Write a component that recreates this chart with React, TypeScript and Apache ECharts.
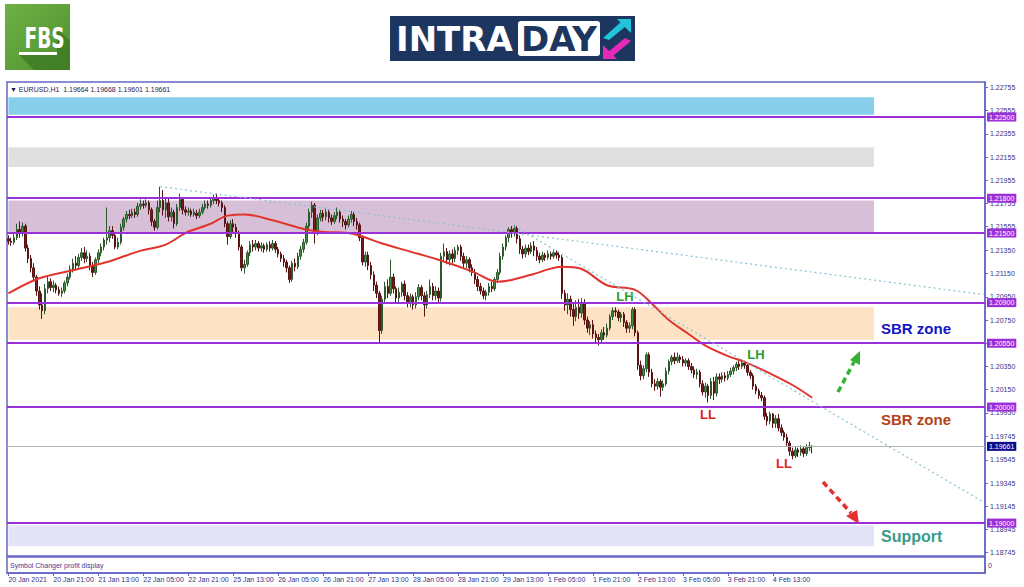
import React, { useEffect, useRef } from "react";
import * as echarts from "echarts";

// ---------- DATA ----------
// EURUSD H1 candles: [open, close, low, high], first bar 20 Jan 2021 05:00
const candles: number[][] = [
  [1.2145,1.2143,1.2140,1.2148],[1.2143,1.2142,1.2139,1.2146],[1.2142,1.2146,1.2140,1.2149],[1.2146,1.2153,1.2144,1.2158],
  [1.2153,1.2150,1.2146,1.2160],[1.2150,1.2156,1.2147,1.2159],[1.2156,1.2137,1.2134,1.2158],[1.2137,1.2128,1.2124,1.2140],
  [1.2128,1.2120,1.2116,1.2131],[1.2120,1.2112,1.2108,1.2124],[1.2112,1.2100,1.2096,1.2114],[1.2100,1.2088,1.2084,1.2104],
  [1.2088,1.2083,1.2076,1.2098],[1.2083,1.2102,1.2080,1.2106],[1.2102,1.2108,1.2098,1.2113],[1.2108,1.2103,1.2100,1.2111],
  [1.2103,1.2105,1.2099,1.2109],[1.2105,1.2101,1.2098,1.2107],[1.2101,1.2098,1.2096,1.2104],[1.2098,1.2100,1.2095,1.2103],
  [1.2100,1.2107,1.2098,1.2109],[1.2107,1.2112,1.2104,1.2115],[1.2112,1.2119,1.2110,1.2122],[1.2119,1.2124,1.2116,1.2128],
  [1.2124,1.2122,1.2118,1.2130],[1.2122,1.2129,1.2120,1.2132],[1.2129,1.2133,1.2126,1.2137],[1.2133,1.2128,1.2124,1.2138],
  [1.2128,1.2130,1.2125,1.2135],[1.2130,1.2122,1.2118,1.2133],[1.2122,1.2116,1.2112,1.2125],[1.2116,1.2127,1.2114,1.2129],
  [1.2127,1.2133,1.2124,1.2136],[1.2133,1.2138,1.2130,1.2141],[1.2138,1.2144,1.2135,1.2146],[1.2144,1.2146,1.2140,1.2172],
  [1.2146,1.2152,1.2142,1.2156],[1.2152,1.2148,1.2145,1.2156],[1.2148,1.2138,1.2136,1.2150],[1.2138,1.2142,1.2136,1.2146],
  [1.2142,1.2155,1.2140,1.2158],[1.2155,1.2162,1.2152,1.2164],[1.2162,1.2166,1.2159,1.2169],[1.2166,1.2165,1.2162,1.2170],
  [1.2165,1.2168,1.2163,1.2171],[1.2168,1.2166,1.2163,1.2171],[1.2166,1.2173,1.2164,1.2176],[1.2173,1.2175,1.2170,1.2179],
  [1.2175,1.2174,1.2171,1.2178],[1.2174,1.2176,1.2172,1.2179],[1.2176,1.2170,1.2166,1.2178],[1.2170,1.2160,1.2156,1.2172],
  [1.2160,1.2155,1.2152,1.2162],[1.2155,1.2172,1.2153,1.2178],[1.2172,1.2178,1.2168,1.2190],[1.2178,1.2170,1.2165,1.2187],
  [1.2170,1.2176,1.2163,1.2181],[1.2176,1.2164,1.2160,1.2180],[1.2164,1.2168,1.2160,1.2172],[1.2168,1.2158,1.2154,1.2170],
  [1.2158,1.2172,1.2156,1.2175],[1.2172,1.2179,1.2169,1.2184],[1.2179,1.2170,1.2166,1.2181],[1.2170,1.2168,1.2165,1.2173],
  [1.2168,1.2169,1.2165,1.2172],[1.2169,1.2166,1.2164,1.2171],[1.2166,1.2168,1.2164,1.2171],[1.2167,1.2165,1.2162,1.2170],
  [1.2165,1.2168,1.2163,1.2171],[1.2168,1.2172,1.2166,1.2175],[1.2172,1.2175,1.2170,1.2178],[1.2175,1.2174,1.2171,1.2178],
  [1.2174,1.2178,1.2172,1.2181],[1.2178,1.2180,1.2175,1.2183],[1.2180,1.2178,1.2175,1.2184],[1.2178,1.2176,1.2173,1.2181],
  [1.2176,1.2172,1.2168,1.2178],[1.2172,1.2158,1.2155,1.2174],[1.2158,1.2147,1.2140,1.2160],[1.2147,1.2158,1.2145,1.2161],
  [1.2158,1.2155,1.2150,1.2162],[1.2155,1.2150,1.2146,1.2158],[1.2150,1.2138,1.2135,1.2152],[1.2138,1.2120,1.2117,1.2140],
  [1.2120,1.2123,1.2115,1.2127],[1.2123,1.2133,1.2121,1.2135],[1.2133,1.2140,1.2130,1.2143],[1.2140,1.2138,1.2134,1.2144],
  [1.2138,1.2141,1.2135,1.2144],[1.2141,1.2137,1.2134,1.2143],[1.2137,1.2139,1.2134,1.2142],[1.2139,1.2136,1.2133,1.2141],
  [1.2136,1.2140,1.2134,1.2142],[1.2140,1.2137,1.2134,1.2143],[1.2137,1.2141,1.2135,1.2144],[1.2141,1.2136,1.2133,1.2143],
  [1.2136,1.2132,1.2129,1.2138],[1.2132,1.2128,1.2125,1.2134],[1.2128,1.2125,1.2121,1.2131],[1.2125,1.2120,1.2116,1.2127],
  [1.2120,1.2110,1.2107,1.2122],[1.2110,1.2124,1.2108,1.2126],[1.2124,1.2121,1.2117,1.2128],[1.2121,1.2130,1.2119,1.2133],
  [1.2130,1.2136,1.2127,1.2139],[1.2136,1.2142,1.2133,1.2145],[1.2142,1.2156,1.2140,1.2159],[1.2156,1.2168,1.2153,1.2171],
  [1.2168,1.2174,1.2163,1.2177],[1.2174,1.2150,1.2141,1.2176],[1.2150,1.2163,1.2148,1.2166],[1.2163,1.2167,1.2160,1.2170],
  [1.2167,1.2164,1.2160,1.2170],[1.2164,1.2168,1.2161,1.2171],[1.2168,1.2163,1.2159,1.2170],[1.2163,1.2160,1.2157,1.2166],
  [1.2160,1.2165,1.2158,1.2168],[1.2165,1.2168,1.2162,1.2172],[1.2168,1.2162,1.2159,1.2170],[1.2162,1.2160,1.2155,1.2165],
  [1.2160,1.2157,1.2153,1.2162],[1.2157,1.2162,1.2155,1.2165],[1.2162,1.2166,1.2159,1.2169],[1.2166,1.2160,1.2156,1.2168],
  [1.2160,1.2157,1.2153,1.2163],[1.2157,1.2146,1.2143,1.2159],[1.2146,1.2125,1.2122,1.2148],[1.2125,1.2131,1.2121,1.2134],
  [1.2131,1.2122,1.2118,1.2134],[1.2122,1.2114,1.2110,1.2125],[1.2114,1.2105,1.2100,1.2117],[1.2105,1.2098,1.2094,1.2108],
  [1.2098,1.2066,1.2056,1.2100],[1.2066,1.2093,1.2063,1.2096],[1.2093,1.2104,1.2090,1.2108],[1.2104,1.2098,1.2094,1.2110],
  [1.2098,1.2112,1.2096,1.2127],[1.2112,1.2102,1.2098,1.2115],[1.2102,1.2094,1.2090,1.2104],[1.2094,1.2099,1.2090,1.2103],
  [1.2099,1.2106,1.2095,1.2108],[1.2106,1.2096,1.2092,1.2109],[1.2096,1.2090,1.2086,1.2099],[1.2090,1.2095,1.2086,1.2098],
  [1.2095,1.2088,1.2084,1.2097],[1.2088,1.2095,1.2085,1.2099],[1.2095,1.2103,1.2092,1.2106],[1.2103,1.2096,1.2092,1.2105],
  [1.2096,1.2088,1.2078,1.2099],[1.2088,1.2097,1.2085,1.2100],[1.2097,1.2104,1.2094,1.2110],[1.2104,1.2096,1.2092,1.2107],
  [1.2096,1.2100,1.2092,1.2104],[1.2100,1.2094,1.2090,1.2103],[1.2094,1.2130,1.2091,1.2133],[1.2130,1.2134,1.2126,1.2141],
  [1.2134,1.2127,1.2123,1.2137],[1.2127,1.2132,1.2122,1.2135],[1.2132,1.2128,1.2124,1.2136],[1.2128,1.2135,1.2125,1.2138],
  [1.2135,1.2138,1.2131,1.2140],[1.2138,1.2130,1.2126,1.2140],[1.2130,1.2124,1.2120,1.2133],[1.2124,1.2127,1.2120,1.2130],
  [1.2127,1.2120,1.2116,1.2129],[1.2120,1.2116,1.2113,1.2123],[1.2116,1.2110,1.2106,1.2119],[1.2110,1.2104,1.2100,1.2113],
  [1.2104,1.2100,1.2097,1.2107],[1.2100,1.2096,1.2093,1.2103],[1.2096,1.2099,1.2092,1.2101],[1.2099,1.2104,1.2096,1.2107],
  [1.2104,1.2102,1.2099,1.2108],[1.2102,1.2110,1.2100,1.2112],[1.2110,1.2116,1.2107,1.2119],[1.2116,1.2130,1.2114,1.2133],
  [1.2130,1.2138,1.2127,1.2141],[1.2138,1.2146,1.2135,1.2148],[1.2146,1.2153,1.2142,1.2155],[1.2153,1.2150,1.2146,1.2156],
  [1.2150,1.2154,1.2147,1.2157],[1.2154,1.2145,1.2141,1.2156],[1.2145,1.2136,1.2132,1.2148],[1.2136,1.2132,1.2128,1.2139],
  [1.2132,1.2137,1.2129,1.2140],[1.2137,1.2134,1.2131,1.2140],[1.2134,1.2139,1.2132,1.2142],[1.2139,1.2135,1.2130,1.2143],
  [1.2135,1.2130,1.2126,1.2138],[1.2130,1.2127,1.2124,1.2133],[1.2127,1.2131,1.2125,1.2134],[1.2131,1.2129,1.2126,1.2133],
  [1.2129,1.2132,1.2127,1.2135],[1.2132,1.2130,1.2127,1.2134],[1.2130,1.2133,1.2128,1.2135],[1.2133,1.2131,1.2128,1.2135],
  [1.2131,1.2129,1.2126,1.2134],[1.2129,1.2098,1.2093,1.2131],[1.2098,1.2088,1.2083,1.2101],[1.2088,1.2093,1.2080,1.2098],
  [1.2093,1.2084,1.2078,1.2096],[1.2084,1.2078,1.2070,1.2089],[1.2078,1.2086,1.2074,1.2092],[1.2086,1.2081,1.2076,1.2093],
  [1.2081,1.2089,1.2077,1.2094],[1.2089,1.2075,1.2071,1.2093],[1.2075,1.2068,1.2064,1.2078],[1.2068,1.2071,1.2062,1.2074],
  [1.2071,1.2063,1.2059,1.2075],[1.2063,1.2060,1.2055,1.2066],[1.2060,1.2058,1.2053,1.2063],[1.2058,1.2064,1.2056,1.2067],
  [1.2064,1.2062,1.2058,1.2069],[1.2062,1.2068,1.2060,1.2072],[1.2068,1.2078,1.2066,1.2080],[1.2078,1.2083,1.2075,1.2086],
  [1.2083,1.2082,1.2078,1.2086],[1.2082,1.2077,1.2074,1.2084],[1.2077,1.2080,1.2073,1.2082],[1.2080,1.2073,1.2069,1.2082],
  [1.2073,1.2068,1.2064,1.2075],[1.2068,1.2070,1.2064,1.2073],[1.2070,1.2084,1.2067,1.2086],[1.2084,1.2064,1.2061,1.2086],
  [1.2064,1.2036,1.2032,1.2066],[1.2036,1.2027,1.2023,1.2040],[1.2027,1.2033,1.2024,1.2036],[1.2033,1.2045,1.2030,1.2047],
  [1.2045,1.2030,1.2026,1.2047],[1.2030,1.2020,1.2017,1.2033],[1.2020,1.2018,1.2014,1.2024],[1.2018,1.2022,1.2015,1.2025],
  [1.2022,1.2017,1.2009,1.2024],[1.2017,1.2020,1.2014,1.2023],[1.2020,1.2031,1.2018,1.2034],[1.2031,1.2039,1.2028,1.2041],
  [1.2039,1.2043,1.2036,1.2045],[1.2043,1.2040,1.2037,1.2047],[1.2040,1.2043,1.2038,1.2047],[1.2043,1.2041,1.2038,1.2045],
  [1.2041,1.2038,1.2035,1.2044],[1.2038,1.2040,1.2035,1.2042],[1.2040,1.2035,1.2032,1.2042],[1.2035,1.2032,1.2029,1.2038],
  [1.2032,1.2028,1.2025,1.2035],[1.2028,1.2030,1.2024,1.2033],[1.2030,1.2020,1.2017,1.2032],[1.2020,1.2013,1.2010,1.2023],
  [1.2013,1.2018,1.2008,1.2021],[1.2018,1.2010,1.2004,1.2020],[1.2010,1.2022,1.2007,1.2025],[1.2022,1.2012,1.2006,1.2026],
  [1.2012,1.2026,1.2009,1.2029],[1.2026,1.2024,1.2020,1.2029],[1.2024,1.2027,1.2021,1.2030],[1.2027,1.2025,1.2022,1.2030],
  [1.2025,1.2028,1.2023,1.2031],[1.2028,1.2031,1.2026,1.2034],[1.2031,1.2034,1.2028,1.2036],[1.2034,1.2037,1.2031,1.2039],
  [1.2037,1.2035,1.2032,1.2040],[1.2035,1.2038,1.2033,1.2041],[1.2038,1.2036,1.2033,1.2040],[1.2036,1.2030,1.2027,1.2038],
  [1.2030,1.2027,1.2024,1.2032],[1.2027,1.2018,1.2015,1.2029],[1.2018,1.2014,1.2011,1.2020],[1.2014,1.2010,1.2007,1.2016],
  [1.2010,1.2008,1.2005,1.2013],[1.2008,1.1992,1.1989,1.2010],[1.1992,1.1988,1.1984,1.1995],[1.1988,1.1994,1.1985,1.1996],
  [1.1994,1.1986,1.1982,1.1995],[1.1986,1.1990,1.1982,1.1993],[1.1990,1.1982,1.1979,1.1994],[1.1982,1.1978,1.1975,1.1985],
  [1.1978,1.1974,1.1971,1.1980],[1.1974,1.1969,1.1966,1.1977],[1.1969,1.1962,1.1958,1.1971],[1.1962,1.1958,1.1955,1.1965],
  [1.1958,1.1963,1.1956,1.1966],[1.1963,1.1961,1.1957,1.1965],[1.1961,1.1964,1.1958,1.1967],[1.1964,1.1960,1.1957,1.1966],
  [1.1960,1.1965,1.1958,1.1968],[1.1965,1.19664,1.1962,1.1970],[1.19664,1.19661,1.19601,1.19668],
];

// Moving average read at points: [bar index, value]
const maPoints: number[][] = [
  [0, 1.2098], [11, 1.2111], [23, 1.2118], [35, 1.2125], [46, 1.2134], [56, 1.2140], [63, 1.2150],
  [72, 1.2158], [78, 1.2165], [84, 1.2166], [94, 1.2161], [106, 1.2153], [112, 1.2151], [121, 1.2150],
  [126, 1.2147], [133, 1.2141], [143, 1.2134], [153, 1.2127], [165, 1.2117], [174, 1.2108], [178, 1.2109],
  [186, 1.2114], [197, 1.2121], [204, 1.2119], [213, 1.2105], [223, 1.2101], [229, 1.2089], [235, 1.2075],
  [242, 1.2063], [248, 1.2053], [257, 1.2043], [262, 1.2039], [271, 1.2029], [279, 1.2019], [286, 1.2008],
];

const tickLabels = [
  "20 Jan 2021", "20 Jan 21:00", "21 Jan 13:00", "22 Jan 05:00", "22 Jan 21:00", "25 Jan 13:00",
  "26 Jan 05:00", "26 Jan 21:00", "27 Jan 13:00", "28 Jan 05:00", "28 Jan 21:00", "29 Jan 13:00",
  "1 Feb 05:00", "1 Feb 21:00", "2 Feb 13:00", "3 Feb 05:00", "3 Feb 21:00", "4 Feb 13:00",
];
const priceTicks = [
  1.22755, 1.22555, 1.22355, 1.22155, 1.21955, 1.21755, 1.21555, 1.2135, 1.2115, 1.2095, 1.2075,
  1.2055, 1.2035, 1.2015, 1.1995, 1.19745, 1.19545, 1.19345, 1.19145, 1.18945, 1.18745,
];
const levels = [1.225, 1.218, 1.215, 1.209, 1.2055, 1.2, 1.19];
const lastPrice = 1.19661;
const zoneBounds = [
  [1.2267, 1.2252],
  [1.2224, 1.2207],
  [1.2178, 1.2151],
  [1.2086, 1.2058],
  [1.1898, 1.1880],
];
const zoneEndBar = 308;
// trendlines: [startBar, startValue, endBar, endValue]
const trendlines = [
  [54, 1.2190, 347, 1.2097],
  [180, 1.2156, 347, 1.1918],
];
const headerQuote = "EURUSD,H1  1.19664 1.19668 1.19601 1.19661";

// hourly time slots (weekdays only), chart shifted with empty space on the right
const TOTAL_SLOTS = 348;
const MONTHS = ["Jan", "Feb", "Mar"];
const categories: string[] = (() => {
  const out: string[] = [];
  let t = Date.UTC(2021, 0, 20, 5);
  while (out.length < TOTAL_SLOTS) {
    const d = new Date(t);
    const wd = d.getUTCDay();
    if (wd !== 0 && wd !== 6) {
      out.push(`${d.getUTCDate()} ${MONTHS[d.getUTCMonth()]} ${String(d.getUTCHours()).padStart(2, "0")}:00`);
    }
    t += 3600000;
  }
  return out;
})();

// ---------- STYLE ----------
const FRAME = "#6464c8";
const LEVEL = "#9b30d9";
const AXIS_TXT = "#33338a";
const SMALL_FONT = "'Liberation Sans', Arial, sans-serif";
const zoneColors = ["#87ceeb", "#e0e0e0", "#d8bfd8", "#fde2c4", "#e4e4f8"];

export default function App() {
  const ref = useRef<HTMLDivElement>(null);

  useEffect(() => {
    if (!ref.current) return;
    const chart = echarts.init(ref.current, undefined, { renderer: "svg" });

    const labelEvery = (idx: number) => idx % 16 === 0 && idx < candles.length;

    const levelLines: any[] = levels.map((v) => ({
      yAxis: v,
      lineStyle: { color: LEVEL, width: 2, type: "solid" },
      label: {
        show: true,
        position: "end",
        distance: 2,
        formatter: () => v.toFixed(5),
        backgroundColor: LEVEL,
        color: "#ffffff",
        fontSize: 7,
        fontFamily: SMALL_FONT,
        padding: [1, 2, 1, 2],
      },
    }));
    levelLines.push({
      yAxis: lastPrice,
      lineStyle: { color: "#b4b4b4", width: 1, type: "solid" },
      label: {
        show: true,
        position: "end",
        distance: 2,
        formatter: () => lastPrice.toFixed(5),
        backgroundColor: "#0c0c8c",
        color: "#ffffff",
        fontSize: 7,
        fontFamily: SMALL_FONT,
        padding: [1, 2, 1, 2],
      },
    });

    const trendData = trendlines.map((t) => [
      { coord: [t[0], t[1]], lineStyle: { color: "#86c3d0", width: 1.2, type: [2, 3] }, label: { show: false } },
      { coord: [t[2], t[3]] },
    ]);

    const option: any = {
      animation: false,
      backgroundColor: "#ffffff",
      grid: [
        { left: 7, top: 82, width: 978, height: 474, show: true, borderColor: FRAME, borderWidth: 1.5, backgroundColor: "#ffffff" },
        { left: 7, top: 557, width: 978, height: 16, show: true, borderColor: FRAME, borderWidth: 1.5, backgroundColor: "#ffffff" },
      ],
      xAxis: [
        {
          type: "category", gridIndex: 0, data: categories, boundaryGap: true,
          axisLine: { show: false }, axisTick: { show: false }, axisLabel: { show: false }, splitLine: { show: false },
        },
        {
          type: "category", gridIndex: 1, data: categories, boundaryGap: true, position: "bottom",
          axisLine: { show: true, lineStyle: { color: FRAME, width: 1.5 } },
          axisTick: { show: true, interval: labelEvery, alignWithLabel: true, length: 3, lineStyle: { color: FRAME } },
          axisLabel: {
            show: true, interval: labelEvery, align: "left", margin: 3,
            formatter: (_v: string, idx: number) => tickLabels[idx / 16] ?? "",
            fontSize: 7, color: AXIS_TXT, fontFamily: SMALL_FONT,
          },
          splitLine: { show: false },
        },
      ],
      yAxis: [
        {
          type: "value", gridIndex: 0, position: "right", min: 1.18716, max: 1.22802,
          splitLine: { show: false },
          axisLine: { show: true, lineStyle: { color: FRAME, width: 1.5 } },
          axisTick: { show: true, length: 3, customValues: priceTicks, lineStyle: { color: FRAME } },
          axisLabel: {
            show: true, customValues: priceTicks, margin: 5,
            formatter: (v: number) => v.toFixed(5),
            fontSize: 7, color: AXIS_TXT, fontFamily: SMALL_FONT,
          },
        },
        {
          type: "value", gridIndex: 1, position: "right", min: 0, max: 1,
          splitLine: { show: false },
          axisLine: { show: true, lineStyle: { color: FRAME, width: 1.5 } },
          axisTick: { show: false }, axisLabel: { show: false },
        },
      ],
      series: [
        {
          name: "zones", type: "line", data: [], z: 1, silent: true,
          markArea: {
            silent: true,
            data: zoneBounds.map((b, k) => [
              { xAxis: 0, yAxis: b[0], itemStyle: { color: zoneColors[k], opacity: 1 } },
              { xAxis: zoneEndBar, yAxis: b[1] },
            ]),
          },
        },
        {
          name: "levels", type: "line", data: [], z: 2, silent: true,
          markLine: {
            silent: true, symbol: ["none", "none"], animation: false, precision: 5,
            data: [...levelLines, ...trendData],
          },
        },
        {
          name: "EURUSD", type: "candlestick", data: candles, z: 3, barWidth: 2,
          itemStyle: { color: "#3f8f3f", color0: "#7b1c1c", borderColor: "#2d5a2d", borderColor0: "#561313", borderWidth: 1 },
        },
        {
          name: "MA", type: "line", data: maPoints, z: 4, smooth: 0.35, showSymbol: false, silent: true,
          lineStyle: { color: "#e0342c", width: 2 },
        },
      ],
      graphic: [
        // FBS logo
        {
          type: "rect", shape: { x: 5, y: 4, width: 65, height: 66 },
          style: { fill: new echarts.graphic.LinearGradient(0, 0, 1, 1, [
            { offset: 0, color: "#6fb043" }, { offset: 1, color: "#4e9130" },
          ]) },
        },
        {
          type: "polygon", shape: { points: [[57, 28], [70, 41], [70, 70], [34, 70], [19, 55], [57, 55]] },
          style: { fill: "#3f7b25", opacity: 0.85 },
        },
        {
          type: "text", x: 18, y: 38, scaleX: 0.64, originX: 18,
          style: { text: "FBS", fill: "#ffffff", fontSize: 29, fontWeight: "bold", fontFamily: "'DejaVu Sans', sans-serif", verticalAlign: "middle", align: "left" },
        },
        { type: "rect", shape: { x: 19, y: 52, width: 38, height: 3 }, style: { fill: "#ffffff" } },
        // INTRADAY logo
        { type: "rect", shape: { x: 390, y: 16, width: 245, height: 45 }, style: { fill: "#1d3660" } },
        {
          type: "text", x: 396, y: 39,
          style: { text: "INTRA", fill: "#ffffff", fontSize: 34, fontWeight: "bold", fontFamily: "'DejaVu Sans', sans-serif", verticalAlign: "middle", align: "left" },
        },
        { type: "rect", shape: { x: 518, y: 21, width: 82, height: 35, r: 3 }, style: { fill: "#ffffff" } },
        {
          type: "text", x: 559, y: 39,
          style: { text: "DAY", fill: "#1d3660", fontSize: 34, fontWeight: "bold", fontFamily: "'DejaVu Sans', sans-serif", verticalAlign: "middle", align: "center" },
        },
        { type: "polygon", shape: { points: [[617, 19], [631, 19], [631, 33]] }, style: { fill: "#22c4da" } },
        { type: "polygon", shape: { points: [[603, 38], [609, 40], [626, 26], [621, 22]] }, style: { fill: "#22c4da" } },
        { type: "polygon", shape: { points: [[603, 45], [603, 59], [617, 59]] }, style: { fill: "#e62ab8" } },
        { type: "polygon", shape: { points: [[625, 38], [631, 41], [613, 56], [608, 52]] }, style: { fill: "#e62ab8" } },
        // chart header text
        {
          type: "text", x: 10, y: 89,
          style: { text: "▼ " + headerQuote, fill: "#1e1e55", fontSize: 7, fontFamily: SMALL_FONT, verticalAlign: "middle", align: "left" },
        },
        {
          type: "text", x: 10, y: 565,
          style: { text: "Symbol Changer profit display", fill: "#3a3a9a", fontSize: 7, fontFamily: SMALL_FONT, verticalAlign: "middle", align: "left" },
        },
        {
          type: "text", x: 988, y: 565,
          style: { text: "0", fill: AXIS_TXT, fontSize: 7, fontFamily: SMALL_FONT, verticalAlign: "middle", align: "left" },
        },
        // annotations
        { type: "text", x: 625, y: 296, style: { text: "LH", fill: "#2f9a2f", fontSize: 13, fontWeight: "bold", fontFamily: SMALL_FONT, align: "center", verticalAlign: "middle" } },
        { type: "text", x: 756, y: 354, style: { text: "LH", fill: "#2f9a2f", fontSize: 13, fontWeight: "bold", fontFamily: SMALL_FONT, align: "center", verticalAlign: "middle" } },
        { type: "text", x: 708, y: 414, style: { text: "LL", fill: "#e02222", fontSize: 13, fontWeight: "bold", fontFamily: SMALL_FONT, align: "center", verticalAlign: "middle" } },
        { type: "text", x: 784, y: 463, style: { text: "LL", fill: "#e02222", fontSize: 13, fontWeight: "bold", fontFamily: SMALL_FONT, align: "center", verticalAlign: "middle" } },
        { type: "text", x: 881, y: 328, style: { text: "SBR zone", fill: "#1515c8", fontSize: 15, fontWeight: "bold", fontFamily: SMALL_FONT, align: "left", verticalAlign: "middle" } },
        { type: "text", x: 881, y: 419, style: { text: "SBR zone", fill: "#b2441a", fontSize: 15, fontWeight: "bold", fontFamily: SMALL_FONT, align: "left", verticalAlign: "middle" } },
        { type: "text", x: 881, y: 536, style: { text: "Support", fill: "#3c9a8a", fontSize: 16, fontWeight: "bold", fontFamily: SMALL_FONT, align: "left", verticalAlign: "middle" } },
        // dashed arrows
        { type: "line", shape: { x1: 838, y1: 392, x2: 854, y2: 362 }, style: { stroke: "#33b233", lineWidth: 3.5, lineDash: [6, 4] } },
        { type: "polygon", shape: { points: [[850, 360], [860, 351], [860, 365]] }, style: { fill: "#33b233" } },
        { type: "line", shape: { x1: 823, y1: 482, x2: 851, y2: 513 }, style: { stroke: "#e53030", lineWidth: 3.5, lineDash: [6, 4] } },
        { type: "polygon", shape: { points: [[846, 516], [857, 510], [859, 524]] }, style: { fill: "#e53030" } },
      ],
    };

    chart.setOption(option);
    return () => chart.dispose();
  }, []);

  return <div ref={ref} style={{ position: "fixed", left: 0, top: 0, width: 1024, height: 587, background: "#fff" }} />;
}
